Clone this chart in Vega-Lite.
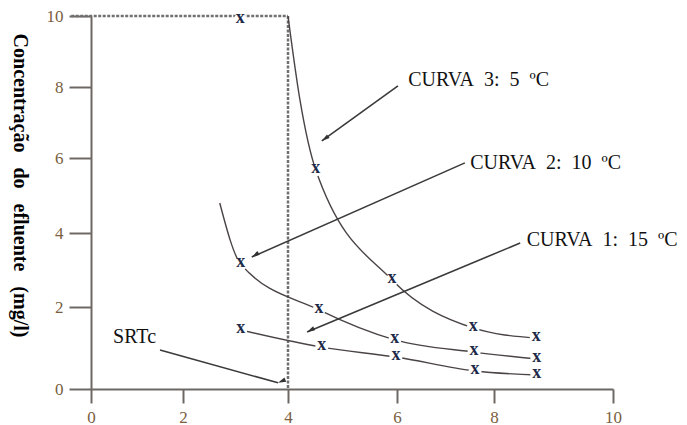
{
  "$schema": "https://vega.github.io/schema/vega-lite/v6.json",
  "width": 522,
  "height": 373,
  "autosize": "none",
  "padding": {"left": 91, "top": 16, "right": 74, "bottom": 36},
  "background": "white",
  "config": {"view": {"stroke": null}},
  "datasets": {
    "guides": [
      {"x": -0.43, "y": 10, "x2": 4, "y2": 10},
      {"x": 4, "y": 10, "x2": 4, "y2": 0}
    ],
    "lines": [
      {"curve": "c3", "x": 4.0, "y": 10},
      {"curve": "c3", "x": 4.22, "y": 7.63},
      {"curve": "c3", "x": 4.51, "y": 5.68},
      {"curve": "c3", "x": 5.91, "y": 2.73},
      {"curve": "c3", "x": 7.57, "y": 1.49},
      {"curve": "c3", "x": 8.71, "y": 1.24},
      {"curve": "c2", "x": 2.70, "y": 4.8},
      {"curve": "c2", "x": 3.10, "y": 3.16},
      {"curve": "c2", "x": 4.57, "y": 1.93},
      {"curve": "c2", "x": 5.96, "y": 1.20},
      {"curve": "c2", "x": 7.59, "y": 0.90},
      {"curve": "c2", "x": 8.72, "y": 0.73},
      {"curve": "c1", "x": 3.10, "y": 1.44},
      {"curve": "c1", "x": 4.62, "y": 1.02},
      {"curve": "c1", "x": 5.98, "y": 0.78},
      {"curve": "c1", "x": 7.61, "y": 0.44},
      {"curve": "c1", "x": 8.72, "y": 0.34}
    ],
    "markers": [
      {"curve": "c3", "x": 3.09, "y": 9.89},
      {"curve": "c3", "x": 4.51, "y": 5.68},
      {"curve": "c3", "x": 5.91, "y": 2.73},
      {"curve": "c3", "x": 7.57, "y": 1.49},
      {"curve": "c3", "x": 8.71, "y": 1.24},
      {"curve": "c2", "x": 3.10, "y": 3.16},
      {"curve": "c2", "x": 4.57, "y": 1.93},
      {"curve": "c2", "x": 5.96, "y": 1.20},
      {"curve": "c2", "x": 7.59, "y": 0.90},
      {"curve": "c2", "x": 8.72, "y": 0.73},
      {"curve": "c1", "x": 3.10, "y": 1.44},
      {"curve": "c1", "x": 4.62, "y": 1.02},
      {"curve": "c1", "x": 5.98, "y": 0.78},
      {"curve": "c1", "x": 7.61, "y": 0.44},
      {"curve": "c1", "x": 8.72, "y": 0.34}
    ],
    "arrows": [
      {"label": "c3", "x": 6.02, "y": 8.03, "x2": 4.62, "y2": 6.48},
      {"label": "c2", "x": 7.40, "y": 5.87, "x2": 3.31, "y2": 3.35},
      {"label": "c1", "x": 8.44, "y": 3.73, "x2": 4.35, "y2": 1.39},
      {"label": "srtc", "x": 1.50, "y": 0.95, "x2": 3.81, "y2": 0.15}
    ],
    "labels": [
      {"text": "CURVA\u00a0 3:\u00a0 5\u00a0 ºC", "x": 6.23, "y": 8.2},
      {"text": "CURVA\u00a0 2:\u00a0 10\u00a0 ºC", "x": 7.51, "y": 5.87},
      {"text": "CURVA\u00a0 1:\u00a0 15\u00a0 ºC", "x": 8.55, "y": 3.81},
      {"text": "SRTc", "x": 0.48, "y": 1.27}
    ]
  },
  "encoding": {
    "x": {
      "field": "x",
      "type": "quantitative",
      "scale": {"domain": [0, 2, 4, 6, 8, 10], "range": [0, 92, 197, 306, 403, 522], "nice": false, "zero": false},
      "axis": {
        "values": [0, 2, 4, 6, 8, 10],
        "title": null,
        "grid": false,
        "domainColor": "#6e6864",
        "domainWidth": 2,
        "tickColor": "#6e6864",
        "tickWidth": 2,
        "tickSize": 14,
        "labelFont": "Liberation Serif",
        "labelFontSize": 17,
        "labelColor": "#7a6040",
        "labelPadding": 6,
        "labelFlush": false,
        "labelOverlap": false
      }
    },
    "y": {
      "field": "y",
      "type": "quantitative",
      "scale": {"domain": [0, 2, 4, 6, 8, 10], "range": [373, 291, 217, 142, 71, 0], "nice": false, "zero": false},
      "axis": {
        "values": [0, 2, 4, 6, 8, 10],
        "grid": false,
        "domainColor": "#6e6864",
        "domainWidth": 2,
        "tickColor": "#6e6864",
        "tickWidth": 2,
        "tickSize": 22,
        "labelFont": "Liberation Serif",
        "labelFontSize": 17,
        "labelColor": "#7a6040",
        "labelPadding": 6,
        "labelFlush": false,
        "labelOverlap": false,
        "title": "Concentração\u00a0 \u00a0do\u00a0 \u00a0efluente\u00a0 \u00a0(mg/l)",
        "titleFont": "Liberation Serif",
        "titleFontSize": 20,
        "titleFontWeight": "bold",
        "titleColor": "black",
        "titleAngle": 90,
        "titleAlign": "center",
        "titleBaseline": "middle",
        "titleX": -72,
        "titleY": 169
      }
    }
  },
  "layer": [
    {
      "data": {"name": "guides"},
      "mark": {"type": "rule", "color": "#707070", "strokeWidth": 2.5, "strokeDash": [3, 1.5]},
      "encoding": {"x2": {"field": "x2"}, "y2": {"field": "y2"}}
    },
    {
      "data": {"name": "lines"},
      "mark": {"type": "line", "color": "#4a4444", "strokeWidth": 1.4, "interpolate": "monotone"},
      "encoding": {"detail": {"field": "curve"}, "order": {"field": "x"}}
    },
    {
      "data": {"name": "arrows"},
      "mark": {"type": "rule", "color": "#3a3a3a", "strokeWidth": 1.6},
      "encoding": {"x2": {"field": "x2"}, "y2": {"field": "y2"}}
    },
    {
      "data": {"name": "arrows"},
      "mark": {"type": "point", "shape": "M0,0L-0.45,1.6L0.45,1.6Z", "filled": true, "color": "#333333", "size": 100, "opacity": 1},
      "encoding": {
        "x": {"field": "x2", "type": "quantitative"},
        "y": {"field": "y2", "type": "quantitative"},
        "angle": {"field": "label", "type": "nominal", "scale": {"domain": ["c3", "c2", "c1", "srtc"], "range": [234, 246, 247, 106]}, "legend": null}
      }
    },
    {
      "data": {"name": "markers"},
      "mark": {"type": "point", "shape": "circle", "filled": true, "color": "white", "size": 170, "opacity": 1, "strokeWidth": 0}
    },
    {
      "data": {"name": "markers"},
      "mark": {"type": "text", "text": "x", "font": "Liberation Serif", "fontSize": 18, "fontWeight": "bold", "color": "#1e2a48", "align": "center", "baseline": "middle", "dy": -2}
    },
    {
      "data": {"name": "labels"},
      "mark": {"type": "text", "font": "Liberation Serif", "fontSize": 20, "color": "#111111", "align": "left", "baseline": "middle"},
      "encoding": {"text": {"field": "text"}}
    }
  ]
}
